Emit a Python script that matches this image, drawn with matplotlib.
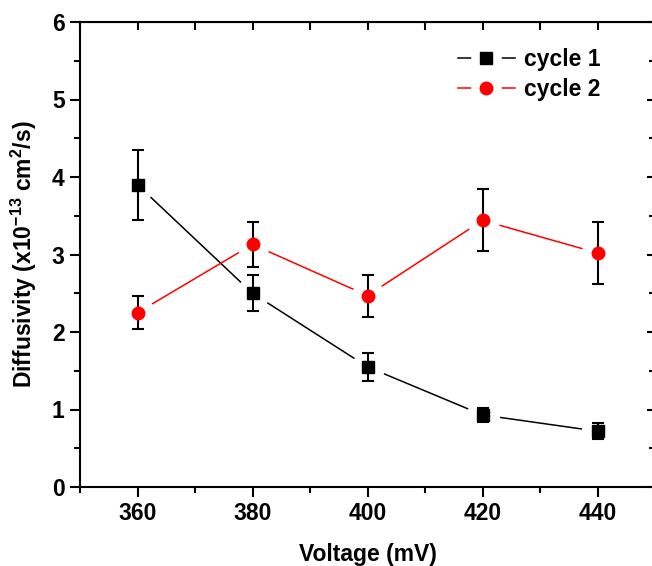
import matplotlib
matplotlib.use("Agg")
import matplotlib.pyplot as plt
from matplotlib.lines import Line2D
from matplotlib.ticker import MultipleLocator

plt.rcParams["font.family"] = ["Liberation Sans", "DejaVu Sans"]
plt.rcParams["font.weight"] = "bold"
plt.rcParams["mathtext.fontset"] = "custom"
plt.rcParams["mathtext.rm"] = "Liberation Sans:bold"
plt.rcParams["mathtext.it"] = "Liberation Sans:bold"
plt.rcParams["mathtext.bf"] = "Liberation Sans:bold"

# data
voltage = [360, 380, 400, 420, 440]
cycle1 = [3.90, 2.50, 1.55, 0.93, 0.72]
cycle1_err = [0.45, 0.23, 0.18, 0.09, 0.10]
cycle2 = [2.25, 3.13, 2.47, 3.44, 3.02]
cycle2_err = [0.21, 0.29, 0.27, 0.40, 0.40]

series = [
    ("cycle 1", cycle1, cycle1_err, "black", "s", 8.0),
    ("cycle 2", cycle2, cycle2_err, "#ff0000", "o", 9.0),
]

fig = plt.figure(figsize=(6.52, 5.66), dpi=100)
ax = fig.add_axes([80 / 652, 79 / 566, 575 / 652, 465 / 566])

handles = []
for label, vals, errs, color, marker, ms in series:
    ax.plot(voltage, vals, color=color, lw=1.1, zorder=1)
    # white halo so the connecting line stops short of each marker
    ax.plot(voltage, vals, ls="none", marker="o", ms=24, mfc="white", mec="none", zorder=2)
    ax.errorbar(voltage, vals, yerr=errs, fmt="none", ecolor="black", elinewidth=1.5,
                capsize=4.3, capthick=1.5, zorder=3)
    ax.plot(voltage, vals, ls="none", marker=marker, ms=ms, mfc=color, mec=color, zorder=4)
    h_line = Line2D([], [], color=color, lw=1.1)
    h_halo = Line2D([], [], ls="none", marker="o", ms=22, mfc="white", mec="none")
    h_mark = Line2D([], [], ls="none", marker=marker, ms=ms, mfc=color, mec=color)
    handles.append(((h_line, h_halo, h_mark), label))

ax.set_xlim(350, 450)
ax.set_ylim(0, 6)
ax.xaxis.set_major_locator(MultipleLocator(20))
ax.xaxis.set_minor_locator(MultipleLocator(10))
ax.yaxis.set_major_locator(MultipleLocator(1))
ax.yaxis.set_minor_locator(MultipleLocator(0.5))
ax.tick_params(which="major", direction="out", length=7, width=1.5, labelsize=16.5, pad=4)
ax.tick_params(which="minor", direction="out", length=4, width=1.5)
for sp in ax.spines.values():
    sp.set_linewidth(1.5)

top = ax.secondary_xaxis("top")
top.xaxis.set_major_locator(MultipleLocator(20))
top.xaxis.set_minor_locator(MultipleLocator(10))
top.tick_params(which="both", direction="in", length=6, width=1.5, labeltop=False)
right = ax.secondary_yaxis("right")
right.yaxis.set_major_locator(MultipleLocator(1))
right.yaxis.set_minor_locator(MultipleLocator(0.5))
right.tick_params(which="major", direction="in", length=6, width=1.5, labelright=False)
right.tick_params(which="minor", direction="in", length=4, width=1.5)

ax.set_xlabel("Voltage (mV)", fontsize=16.5, fontweight="bold", labelpad=13)
ax.set_ylabel("Diffusivity (x10$^{-13}$ cm$^{2}$/s)", fontsize=16.5, fontweight="bold", labelpad=9)

ax.legend([h for h, _ in handles], [l for _, l in handles], loc="upper right",
          bbox_to_anchor=(612 / 652, 1 - 37 / 566), bbox_transform=fig.transFigure,
          frameon=False, fontsize=16.5, handlelength=2.5, handletextpad=0.4,
          labelspacing=0.3, borderpad=0)

fig.savefig("out.png", dpi=100)
